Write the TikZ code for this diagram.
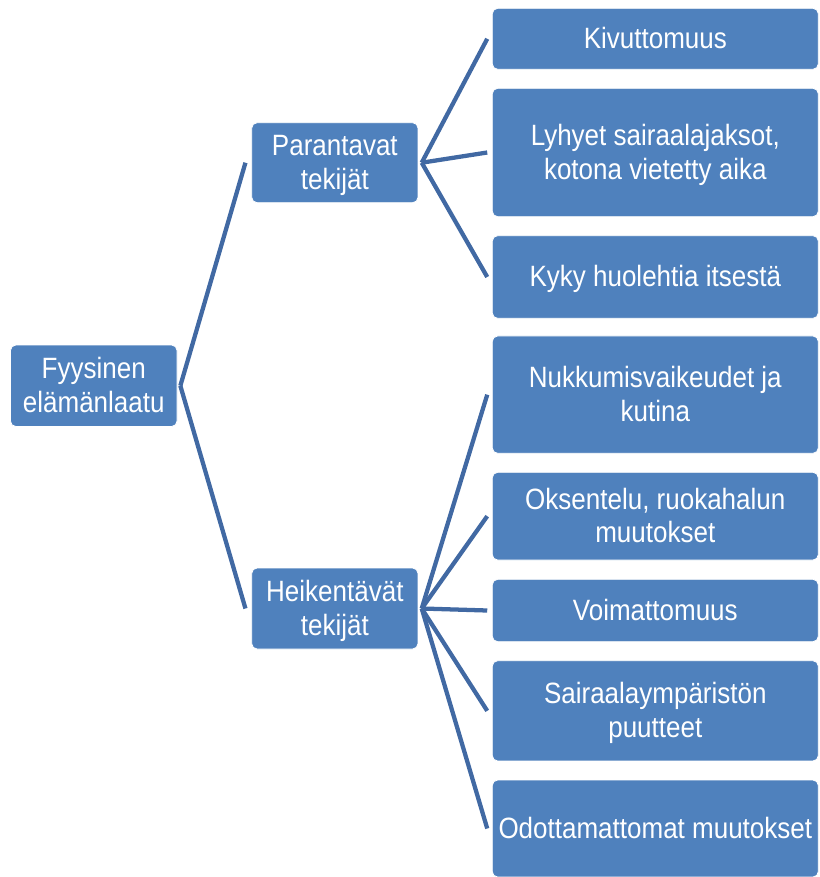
\documentclass[tikz,border=0pt]{standalone}
\usepackage{fontspec}
\setmainfont{Liberation Sans}
\usepackage{graphicx}
\definecolor{boxblue}{HTML}{4F81BD}
\definecolor{linkblue}{HTML}{4169A3}
\newcommand\tx[1]{\raisebox{-2.3pt}[\height][\depth]{\scalebox{1}[1.13]{\fontsize{19.5}{22.3}\selectfont\begin{tabular}{@{}c@{}}#1\end{tabular}}}}
\tikzset{
  boxnode/.style={rectangle, rounded corners=4pt, fill=boxblue, draw=white, line width=0.6pt,
    text=white, inner sep=0pt, align=center},
  conn/.style={draw=linkblue, line width=3.2pt},
}
\begin{document}
\begin{tikzpicture}[x=0.75pt,y=-0.75pt]
\useasboundingbox (0,0) rectangle (819,877);
% left and middle boxes
\node[boxnode, minimum width=124.9pt, minimum height=61.1pt] (F) at (93.75,385.75) {\tx{Fyysinen\\elämänlaatu}};
\node[boxnode, minimum width=124.7pt, minimum height=60pt] (P) at (334.85,162.7) {\tx{Parantavat\\tekijät}};
\node[boxnode, minimum width=124.7pt, minimum height=60.75pt] (H) at (334.85,608.5) {\tx{Heikentävät\\tekijät}};
% right column
\node[boxnode, minimum width=244.5pt, minimum height=45.75pt] (K1) at (655.3,38.8) {\tx{Kivuttomuus}};
\node[boxnode, minimum width=244.5pt, minimum height=96.3pt] (K2) at (655.3,152.5) {\tx{Lyhyet sairaalajaksot,\\kotona vietetty aika}};
\node[boxnode, minimum width=244.5pt, minimum height=62pt] (K3) at (655.3,277) {\tx{Kyky huolehtia itsestä}};
\node[boxnode, minimum width=244.5pt, minimum height=88pt] (W1) at (655.3,394.65) {\tx{Nukkumisvaikeudet ja\\kutina}};
\node[boxnode, minimum width=244.5pt, minimum height=65.8pt] (W2) at (655.3,516.15) {\tx{Oksentelu, ruokahalun\\muutokset}};
\node[boxnode, minimum width=244.5pt, minimum height=46.8pt] (W3) at (655.3,610.5) {\tx{Voimattomuus}};
\node[boxnode, minimum width=244.5pt, minimum height=75.2pt] (W4) at (655.3,710.85) {\tx{Sairaalaympäristön\\puutteet}};
\node[boxnode, minimum width=244.5pt, minimum height=72.75pt] (W5) at (655.3,828.5) {\tx{Odottamattomat muutokset}};
% connectors
\draw[conn] ([xshift=2.2pt]F.east) -- ([xshift=-4.4pt]P.west);
\draw[conn] ([xshift=2.2pt]F.east) -- ([xshift=-4.4pt]H.west);
\foreach \t in {K1,K2,K3}
  \draw[conn] ([xshift=2.5pt]P.east) -- ([xshift=-3.5pt]\t.west);
\foreach \t in {W1,W2,W3,W4,W5}
  \draw[conn] ([xshift=2.5pt]H.east) -- ([xshift=-3.5pt]\t.west);
\end{tikzpicture}
\end{document}
